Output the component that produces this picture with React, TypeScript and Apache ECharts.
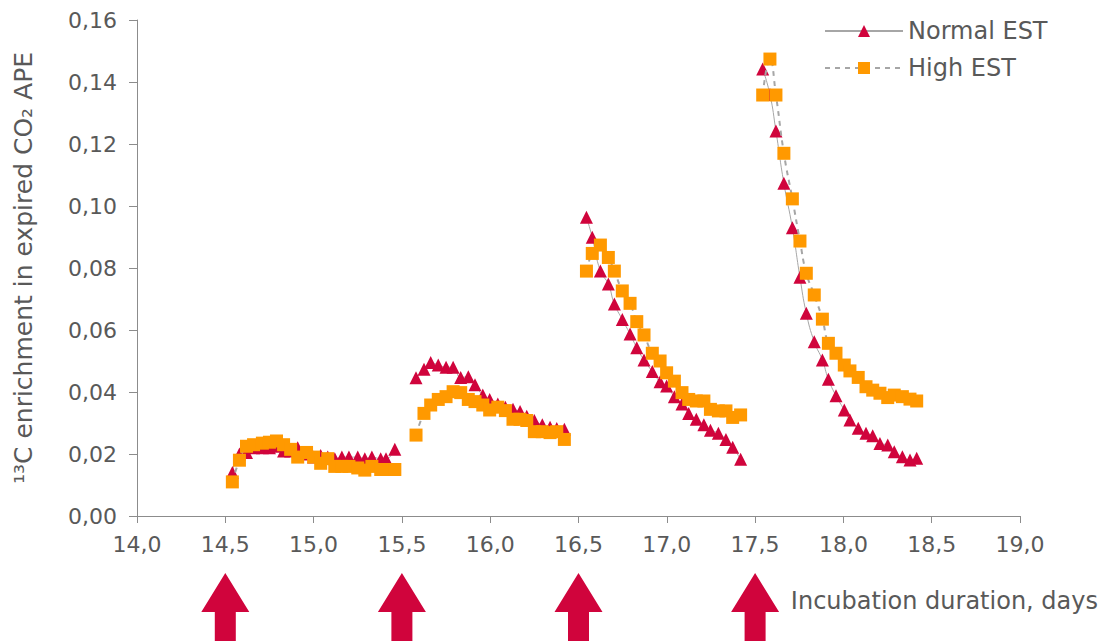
import React, { useEffect, useRef } from "react";
import * as echarts from "echarts";

// Segment days (shared by both series)
const days1 = [14.54, 14.58, 14.62, 14.66, 14.71, 14.75, 14.79, 14.83, 14.87, 14.91, 14.96, 15.0, 15.04, 15.08, 15.12, 15.16, 15.2, 15.25, 15.29, 15.33, 15.38, 15.41, 15.46];
const days2 = [15.58, 15.625, 15.663, 15.706, 15.75, 15.79, 15.833, 15.876, 15.914, 15.958, 15.997, 16.043, 16.086, 16.129, 16.169, 16.207, 16.25, 16.295, 16.339, 16.377, 16.42];
const days3 = [16.545, 16.578, 16.624, 16.669, 16.703, 16.748, 16.792, 16.83, 16.871, 16.918, 16.962, 16.999, 17.043, 17.086, 17.124, 17.167, 17.21, 17.247, 17.292, 17.335, 17.373, 17.418];
const days4 = [17.543, 17.584, 17.618, 17.663, 17.711, 17.754, 17.79, 17.835, 17.881, 17.915, 17.958, 18.005, 18.037, 18.084, 18.128, 18.166, 18.207, 18.251, 18.288, 18.334, 18.377, 18.415];

const normal1 = [0.014, 0.02, 0.0205, 0.022, 0.022, 0.022, 0.0225, 0.021, 0.021, 0.022, 0.02, 0.019, 0.0195, 0.019, 0.0185, 0.019, 0.019, 0.019, 0.0185, 0.019, 0.0185, 0.0185, 0.0215];
const high1 = [0.011, 0.018, 0.0225, 0.023, 0.0235, 0.0238, 0.0242, 0.023, 0.0215, 0.019, 0.0205, 0.019, 0.017, 0.0185, 0.016, 0.016, 0.016, 0.0155, 0.0148, 0.016, 0.015, 0.015, 0.015];

const normal2 = [0.0446, 0.0473, 0.0495, 0.0487, 0.048, 0.048, 0.0447, 0.0449, 0.0423, 0.039, 0.0376, 0.0361, 0.0351, 0.0344, 0.0337, 0.0322, 0.0308, 0.0294, 0.0286, 0.0282, 0.028];
const high2 = [0.0261, 0.0331, 0.0358, 0.0376, 0.0385, 0.0401, 0.0398, 0.0376, 0.0369, 0.0358, 0.0342, 0.0351, 0.034, 0.0312, 0.0312, 0.0308, 0.0272, 0.0272, 0.0269, 0.0272, 0.0247];

const normal3 = [0.0964, 0.0899, 0.079, 0.0748, 0.0684, 0.0634, 0.0587, 0.0543, 0.0503, 0.0466, 0.0433, 0.0419, 0.0385, 0.0361, 0.0331, 0.0312, 0.0294, 0.0277, 0.0267, 0.0247, 0.0222, 0.0183];
const high3 = [0.079, 0.0847, 0.0874, 0.0834, 0.079, 0.0726, 0.0686, 0.0627, 0.0584, 0.0525, 0.05, 0.0462, 0.0435, 0.0398, 0.0376, 0.0371, 0.0371, 0.0344, 0.0339, 0.0339, 0.0318, 0.0326];

const normal4 = [0.1442, 0.136, 0.1242, 0.1073, 0.093, 0.077, 0.0654, 0.0562, 0.0503, 0.0441, 0.0388, 0.0342, 0.031, 0.0283, 0.0267, 0.0259, 0.0234, 0.0229, 0.0207, 0.0191, 0.0181, 0.0186];
const high4 = [0.1358, 0.1474, 0.1358, 0.117, 0.1023, 0.0887, 0.0783, 0.0713, 0.0635, 0.0557, 0.0525, 0.0487, 0.0468, 0.0447, 0.0417, 0.0406, 0.0396, 0.0382, 0.039, 0.0385, 0.0377, 0.0371];

const arrowDays = [14.5, 15.5, 16.5, 17.5];

const FONT = "DejaVu Sans";
const TEXT = "#595959";
const AXIS = "#8c8c8c";

function build(dayGroups: number[][], valGroups: number[][]) {
  const out: any[] = [];
  dayGroups.forEach((ds, gi) => {
    if (gi > 0) out.push("-");
    ds.forEach((d, i) => out.push([d, valGroups[gi][i]]));
  });
  return out;
}

export default function App() {
  const ref = useRef<HTMLDivElement>(null);
  useEffect(() => {
    document.body.style.margin = "0";
    const chart = echarts.init(ref.current!, null, { renderer: "svg" });
    const dayGroups = [days1, days2, days3, days4];
    const xName = {
      type: "text",
      right: 5,
      top: 589,
      style: {
        text: "Incubation duration, days",
        font: `24px "${FONT}"`,
        fill: TEXT,
      },
    };
    chart.setOption({
      animation: false,
      grid: { left: 137, right: 83, top: 20, bottom: 125 },
      legend: {
        orient: "vertical",
        left: 819,
        top: 14,
        itemWidth: 78,
        itemHeight: 15,
        itemGap: 13,
        textStyle: { fontFamily: FONT, fontSize: 24, color: TEXT },
        data: ["Normal EST", "High EST"],
      },
      xAxis: {
        type: "value",
        min: 14,
        max: 19,
        interval: 0.5,
        axisLine: { lineStyle: { color: AXIS } },
        axisTick: { show: true, length: 7, lineStyle: { color: AXIS } },
        splitLine: { show: false },
        axisLabel: {
          fontFamily: FONT,
          fontSize: 22,
          color: TEXT,
          margin: 17,
          formatter: (v: number) => v.toFixed(1).replace(".", ","),
        },
      },
      yAxis: {
        type: "value",
        min: 0,
        max: 0.16,
        interval: 0.02,
        name: "¹³C enrichment in expired CO₂ APE",
        nameLocation: "middle",
        nameGap: 101,
        nameTextStyle: { fontFamily: FONT, fontSize: 25, color: TEXT },
        axisLine: { show: true, lineStyle: { color: AXIS } },
        axisTick: { show: true, length: 8, lineStyle: { color: AXIS } },
        splitLine: { show: false },
        axisLabel: {
          fontFamily: FONT,
          fontSize: 22,
          color: TEXT,
          margin: 20,
          formatter: (v: number) => v.toFixed(2).replace(".", ","),
        },
      },
      graphic: [xName],
      series: [
        {
          name: "Normal EST",
          type: "line",
          smooth: true,
          connectNulls: false,
          data: build(dayGroups, [normal1, normal2, normal3, normal4]),
          symbol: "triangle",
          symbolSize: 13,
          itemStyle: { color: "#D0043C" },
          lineStyle: { color: "#A6A6A6", width: 1 },
          z: 2,
        },
        {
          name: "High EST",
          type: "line",
          smooth: true,
          connectNulls: false,
          data: build(dayGroups, [high1, high2, high3, high4]),
          symbol: "rect",
          symbolSize: 13,
          itemStyle: { color: "#FF9900" },
          lineStyle: { color: "#A6A6A6", width: 2, type: [5, 5] },
          z: 3,
        },
      ],
    });
    const arrows = arrowDays.map((d) => {
      const cx = chart.convertToPixel({ xAxisIndex: 0 }, d) as number;
      return {
        type: "polygon",
        shape: {
          points: [
            [cx, 573],
            [cx + 24, 612],
            [cx + 10.5, 612],
            [cx + 10.5, 645],
            [cx - 10.5, 645],
            [cx - 10.5, 612],
            [cx - 24, 612],
          ],
        },
        style: { fill: "#D0043C" },
      };
    });
    chart.setOption({ graphic: [xName, ...arrows] });
    return () => chart.dispose();
  }, []);
  return <div ref={ref} style={{ width: 1103, height: 641 }} />;
}
